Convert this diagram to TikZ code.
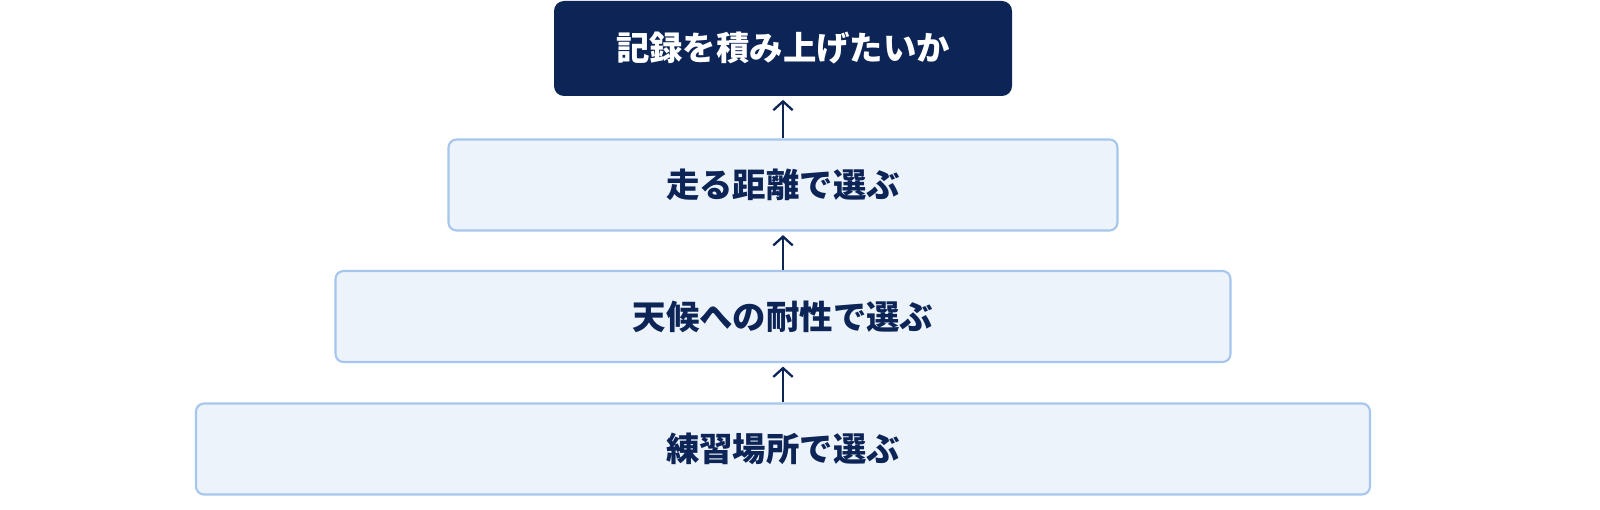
\documentclass[tikz,border=0pt]{standalone}
\usepackage{fontspec}
\newfontfamily\jpfont{Noto Sans CJK JP}
\usetikzlibrary{arrows.meta}

\definecolor{navy}{HTML}{0C2456}
\definecolor{paleblue}{HTML}{EDF3FB}
\definecolor{lineblue}{HTML}{A6C6EE}

\tikzstyle{goal}=[rectangle,rounded corners=0.2cm,fill=navy,text=white,minimum height=1.9cm,font=\jpfont\bfseries\fontsize{19pt}{22pt}\selectfont]
\tikzstyle{step box}=[rectangle,rounded corners=0.16cm,draw=lineblue,line width=1.2pt,fill=paleblue,text=navy,minimum height=1.82cm,font=\jpfont\bfseries\fontsize{19pt}{22pt}\selectfont]
\tikzstyle{edge}=[draw,line width=1.3pt,navy,-{Straight Barb[length=5pt,width=11pt]},shorten >=2pt]

\begin{document}
\begin{tikzpicture}
     \useasboundingbox[fill=white] (0,0) rectangle (32,10.18);
     % the goal on top
     \node[goal,minimum width=9.16cm] (goal) at (15.66,9.21) {記録を積み上げたいか};
     % then the steps, widest at the bottom
     \foreach \pos/\boxw/\name/\txt in {{(15.66,6.48)/13.38cm/dist/走る距離で選ぶ},
       {(15.66,3.85)/17.9cm/weather/天候への耐性で選ぶ},
       {(15.66,1.2)/23.48cm/place/練習場所で選ぶ}}
     \node[step box,minimum width=\boxw] (\name) at \pos {\txt};
     % arrows going up
     \foreach \source/\dest in {place/weather, weather/dist, dist/goal}
     \path[edge] (\source) -- (\dest);
\end{tikzpicture}
\end{document}
